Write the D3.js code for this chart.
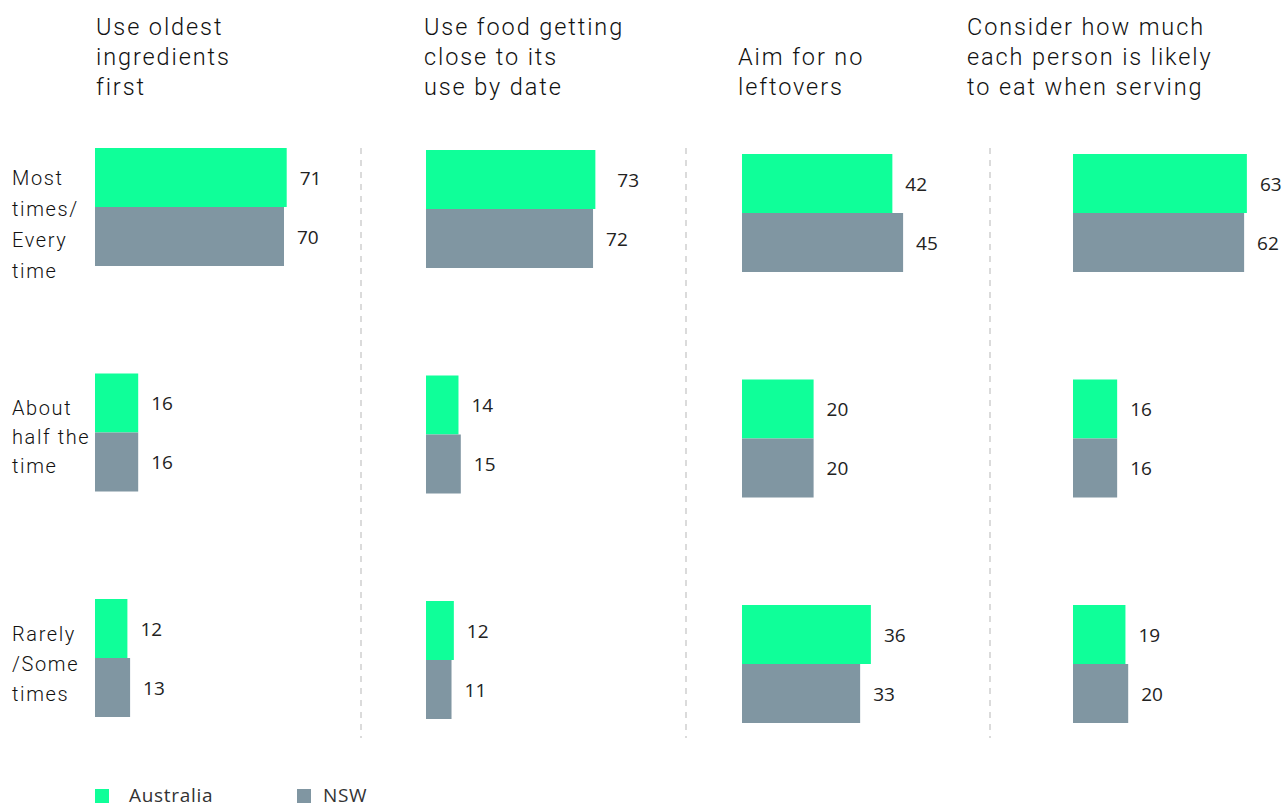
<!DOCTYPE html>
<html><head><meta charset="utf-8">
<script src="https://cdn.jsdelivr.net/npm/d3@7"></script>
<style>
body{margin:0;background:#fff;}
svg{display:block;}
</style></head>
<body>
<svg id="c" width="1287" height="807"></svg>
<script>
const panels = [
  ["Use oldest","ingredients","first"],
  ["Use food getting","close to its","use by date"],
  ["Aim for no","leftovers"],
  ["Consider how much","each person is likely","to eat when serving"]
];
const categories = [
  ["Most","times/","Every","time"],
  ["About","half the","time"],
  ["Rarely","/Some","times"]
];
const series = ["Australia","NSW"];
const australia = [[71,16,12],[73,14,12],[42,20,36],[63,16,19]];
const nsw = [[70,16,13],[72,15,11],[45,20,33],[62,16,20]];

const colors = {Australia:"#0fff99", NSW:"#8096a2"};
const svg = d3.select("#c");

const layout = [
  {x0:95,  per100:270, top:148, titleX:96},
  {x0:426, per100:232, top:150, titleX:424},
  {x0:742, per100:358, top:154, titleX:738},
  {x0:1073,per100:276, top:154, titleX:967}
];
const barH = 59, groupStep = 225.5;
const titleFont = "Roboto, 'Liberation Sans', sans-serif";
const numFont = "'Open Sans', 'Liberation Sans', sans-serif";

panels.forEach((title, p) => {
  const L = layout[p];
  const x = d3.scaleLinear().domain([0,100]).range([L.x0, L.x0 + L.per100]);
  const y = d3.scaleBand().domain(d3.range(categories.length))
    .range([L.top, L.top + groupStep*categories.length]).paddingInner(0).paddingOuter(0);
  const g = svg.append("g");
  const lines = title.length === 2 ? ["", ...title] : title;
  lines.forEach((t,i) => {
    if(!t) return;
    g.append("text").attr("x", L.titleX).attr("y", 35 + i*30)
      .attr("font-family", titleFont).attr("font-weight", 300).attr("font-size", 23.5)
      .attr("letter-spacing", 1.9).attr("fill", "#111").text(t);
  });
  const rows = [];
  categories.forEach((c, ci) => {
    rows.push({s:"Australia", v:australia[p][ci], ci, k:0});
    rows.push({s:"NSW", v:nsw[p][ci], ci, k:1});
  });
  g.selectAll("rect.bar").data(rows).join("rect")
    .attr("x", x(0))
    .attr("y", d => y(d.ci) + d.k*barH)
    .attr("width", d => x(d.v) - x(0))
    .attr("height", barH)
    .attr("fill", d => colors[d.s]);
  g.selectAll("text.val").data(rows).join("text")
    .attr("x", d => x(d.v) + 13 + (p===1 && d.ci===0 && d.k===0 ? 9 : 0))
    .attr("y", d => y(d.ci) + d.k*barH + barH/2 + 7)
    .attr("font-family", numFont).attr("font-size", 19)
    .attr("fill", "#222").text(d => d.v);
});

const catLineH = [31, 29, 30];
const catTops = [178, 408, 634];
categories.forEach((c, ci) => {
  c.forEach((t, i) => {
    svg.append("text").attr("x", 12).attr("y", catTops[ci] + 7 + i*catLineH[ci])
      .attr("font-family", titleFont).attr("font-weight", 300).attr("font-size", 20)
      .attr("letter-spacing", 1.6).attr("fill", "#111").text(t);
  });
});

[361, 686, 990].forEach(xd => {
  svg.append("line").attr("x1", xd).attr("x2", xd).attr("y1", 148).attr("y2", 738)
    .attr("stroke", "#d0d0d0").attr("stroke-width", 1.5).attr("stroke-dasharray", "6,6");
});

const legX = [95, 297];
const legTextOff = [34, 26];
series.forEach((s, i) => {
  svg.append("rect").attr("x", legX[i]).attr("y", 789).attr("width", 14).attr("height", 14)
    .attr("fill", colors[s]);
  svg.append("text").attr("x", legX[i] + legTextOff[i]).attr("y", 802)
    .attr("font-family", numFont).attr("font-size", 19).attr("letter-spacing", 0.7)
    .attr("fill", "#333").text(s);
});
</script>
</body></html>
